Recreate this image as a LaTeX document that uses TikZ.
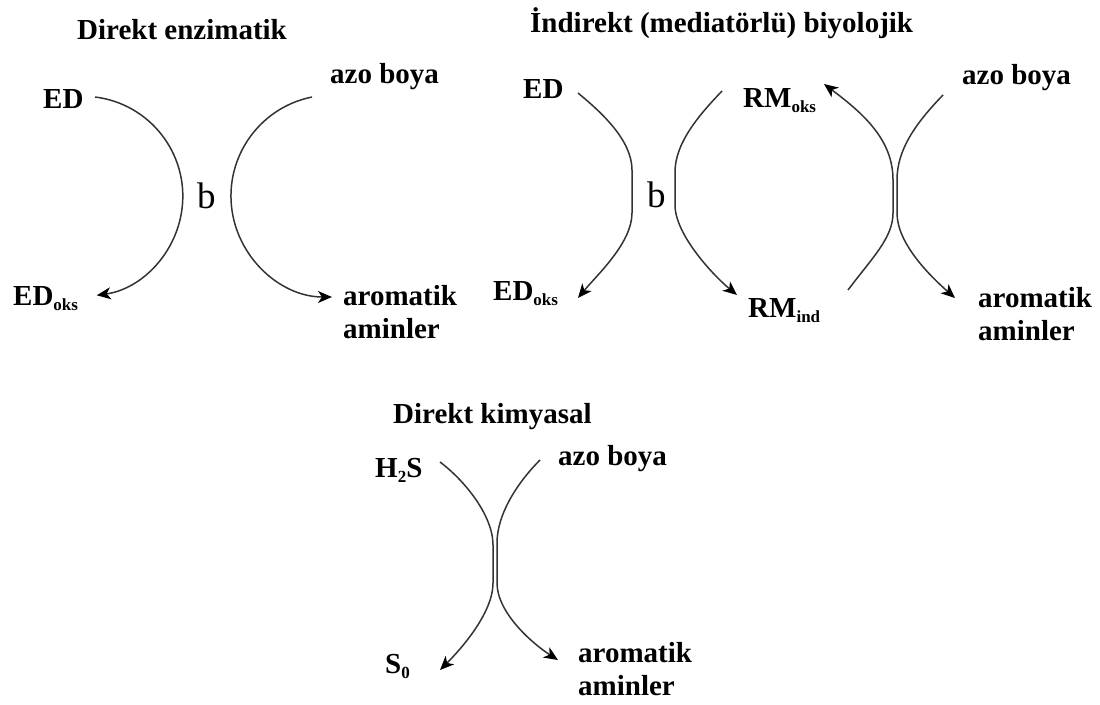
\documentclass[tikz,border=0pt]{standalone}
\usepackage{fontspec}
\setmainfont{Liberation Serif}
\usetikzlibrary{arrows.meta}
\newcommand\sbs[1]{\raisebox{-5pt}{\fontsize{17}{17}\selectfont #1}}
\begin{document}
\begin{tikzpicture}[x=1pt,y=-1pt,
  lbl/.style={font=\fontsize{29}{33}\selectfont\bfseries, inner sep=0pt, anchor=base west},
  blbl/.style={font=\fontsize{37}{37}\selectfont, inner sep=0pt, anchor=base west},
  conn/.style={draw=black!80, line width=1.5pt, -{Stealth[length=14pt,width=12pt,inset=4pt,black]}}
]
\useasboundingbox (0,0) rectangle (1100,704);

% ---------- Panel 1: Direkt enzimatik ----------
\node[lbl] (t1) at (77,39) {Direkt enzimatik};
\node[lbl] (ed1) at (43,108) {ED};
\node[lbl] (azo1) at (330,83) {azo boya};
\node[blbl] (b1) at (197,208) {b};
\node[lbl] (edoks1) at (13,305) {ED\sbs{oks}};
\node[lbl,align=left] (arom1) at (343,338) {aromatik\\aminler};

\coordinate (p1a) at (95,97);
\coordinate (p1b) at (312,97);
\draw[conn] (p1a) arc[start angle=-83, end angle=82, radius=100];
\draw[conn] (p1b) arc[start angle=-101.4, end angle=-270, radius=101];

% ---------- Panel 2: Indirekt ----------
\node[lbl] (t2) at (530,32) {İndirekt (mediatörlü) biyolojik};
\node[lbl] (ed2) at (523,98) {ED};
\node[lbl] (rmoks) at (743,107) {RM\sbs{oks}};
\node[lbl] (azo2) at (962,84) {azo boya};
\node[blbl] (b2) at (647,207) {b};
\node[lbl] (edoks2) at (493,300) {ED\sbs{oks}};
\node[lbl] (rmind) at (748,317) {RM\sbs{ind}};
\node[lbl,align=left] (arom2) at (978,340) {aromatik\\aminler};

\coordinate (q1s) at (578,93);
\coordinate (q1e) at (578,298);
\draw[conn] (q1s) .. controls (601,112) and (632,140) .. (632,170) -- (632,213)
  .. controls (632,243) and (597,275) .. (q1e);

\coordinate (q2s) at (722,91);
\coordinate (q2e) at (737,295);
\draw[conn] (q2s) .. controls (701,113) and (675,142) .. (675,172) -- (675,205)
  .. controls (675,235) and (714,276) .. (q2e);

\coordinate (q3s) at (848,290);
\coordinate (q3e) at (824,84);
\draw[conn] (q3s) .. controls (872,258) and (893,238) .. (893,213) -- (893,180)
  .. controls (893,140) and (864,114) .. (q3e);

\coordinate (q4s) at (943,95);
\coordinate (q4e) at (955,298);
\draw[conn] (q4s) .. controls (915,124) and (897,150) .. (897,180) -- (897,213)
  .. controls (897,243) and (929,275) .. (q4e);

% ---------- Panel 3: Direkt kimyasal ----------
\node[lbl] (t3) at (393,423) {Direkt kimyasal};
\node[lbl] (h2s) at (375,477) {H\sbs{2}S};
\node[lbl] (azo3) at (558,465) {azo boya};
\node[lbl] (s0) at (385,673) {S\sbs{0}};
\node[lbl,align=left] (arom3) at (578,695) {aromatik\\aminler};

\coordinate (r1s) at (440,462);
\coordinate (r1e) at (440,670);
\draw[conn] (r1s) .. controls (464,480) and (493,515) .. (493,545) -- (493,583)
  .. controls (493,613) and (461,649) .. (r1e);

\coordinate (r2s) at (540,460);
\coordinate (r2e) at (558,660);
\draw[conn] (r2s) .. controls (519,481) and (497,513) .. (497,543) -- (497,583)
  .. controls (497,613) and (533,644) .. (r2e);
\end{tikzpicture}
\end{document}
